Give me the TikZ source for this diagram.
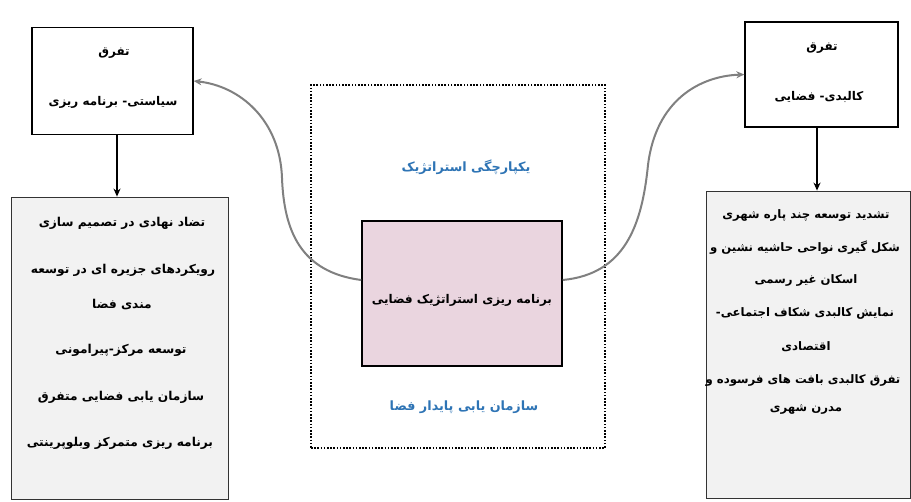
\documentclass[tikz,border=0pt]{standalone}
\usepackage{fontspec}
\usetikzlibrary{arrows.meta}
\TeXXeTstate=1
\newfontfamily\arabicfont[Script=Arabic]{DejaVu Sans}
\newcommand{\fa}[1]{{\arabicfont\beginR #1\endR}}
\definecolor{curvegray}{HTML}{808080}
\definecolor{pinkfill}{HTML}{EAD5DF}
\definecolor{boxgray}{HTML}{F2F2F2}
\definecolor{textblue}{HTML}{2E74B5}
\tikzset{
  topbox/.style={draw=black, line width=1.3pt, fill=white},
  listbox/.style={draw=black!80, line width=0.8pt, fill=boxgray},
  centerbox/.style={draw=black, line width=1.6pt, fill=pinkfill},
  frame/.style={draw=black, line width=1.4pt, dash pattern=on 1.6pt off 1.6pt},
  txt/.style={font=\bfseries\fontsize{12.2}{14}\selectfont, inner sep=0pt},
  rtxt/.style={font=\bfseries\fontsize{11.7}{14}\selectfont, inner sep=0pt},
  toptxt/.style={font=\bfseries\fontsize{12}{14}\selectfont, inner sep=0pt},
  bluetxt/.style={font=\bfseries\fontsize{12.8}{15}\selectfont, text=textblue, inner sep=0pt},
  curvearrow/.style={draw=curvegray, line width=2pt, -{Stealth[length=8pt,width=7pt]}},
  downarrow/.style={draw=black, line width=1.6pt, -{Stealth[length=8pt,width=7pt]}}
}
\begin{document}
\begin{tikzpicture}[x=1pt,y=-1pt]
\useasboundingbox[fill=white] (0,0) rectangle (911,502);
% boxes
\node[frame, minimum width=294pt, minimum height=363pt, inner sep=0pt] (frm) at (458,266.5) {};
\node[topbox, minimum width=161pt, minimum height=107pt, inner sep=0pt] (tl) at (112.5,81) {};
\node[topbox, minimum width=153pt, minimum height=105pt, inner sep=0pt] (tr) at (821.5,74.5) {};
\node[listbox, minimum width=217pt, minimum height=302pt, inner sep=0pt] (bl) at (119.5,348) {};
\node[listbox, minimum width=204pt, minimum height=307pt, inner sep=0pt] (br) at (808,344.5) {};
\node[centerbox, minimum width=200pt, minimum height=145pt, inner sep=0pt] (cb) at (462,293.5) {};
% center texts
\node[txt, font=\bfseries\fontsize{12}{14}\selectfont] (ct) at (462,300) {\fa{برنامه ریزی استراتژیک فضایی}};
\node[bluetxt] (b1) at (466,167) {\fa{یکپارچگی استراتژیک}};
\node[bluetxt] (b2) at (464,407) {\fa{سازمان یابی پایدار فضا}};
% top-left texts
\node[toptxt] (tl1) at (114,53) {\fa{تفرق}};
\node[toptxt] (tl2) at (113,102) {\fa{سیاستی- برنامه ریزی}};
% top-right texts
\node[toptxt] (tr1) at (822,48) {\fa{تفرق}};
\node[toptxt] (tr2) at (819,97) {\fa{کالبدی- فضایی}};
% bottom-left list
\node[txt] (l1) at (122,223) {\fa{تضاد نهادی در تصمیم سازی}};
\node[txt] (l2) at (123,270) {\fa{رویکردهای جزیره ای در توسعه}};
\node[txt] (l3) at (122,305) {\fa{مندی فضا}};
\node[txt] (l4) at (121,350) {\fa{توسعه مرکز-پیرامونی}};
\node[txt] (l5) at (121,397) {\fa{سازمان یابی فضایی متفرق}};
\node[txt] (l6) at (120,443) {\fa{برنامه ریزی متمرکز وبلوپرینتی}};
% bottom-right list
\node[rtxt] (r1) at (806,215) {\fa{تشدید توسعه چند پاره شهری}};
\node[rtxt] (r2) at (805,248) {\fa{شکل گیری نواحی حاشیه نشین و}};
\node[rtxt] (r3) at (806,280) {\fa{اسکان غیر رسمی}};
\node[rtxt] (r4) at (805,313) {\fa{نمایش کالبدی شکاف اجتماعی-}};
\node[rtxt] (r5) at (806,347) {\fa{اقتصادی}};
\node[rtxt] (r6) at (803,380) {\fa{تفرق کالبدی بافت های فرسوده و}};
\node[rtxt] (r7) at (806,410) {\fa{مدرن شهری}};
% connectors
\draw[downarrow] (tl.south -| bl.north) ++(-2.5,0) coordinate (tls) -- (tls |- bl.north);
\draw[downarrow] (tr.south) ++(-4.5,0) coordinate (trs) -- (trs |- br.north);
\draw[curvearrow] ([yshift=13.5pt]cb.west) .. controls (300,272) and (284,230) .. (282,178) .. controls (280,120) and (240,86) .. (tl.east);
\draw[curvearrow] ([yshift=13.5pt]cb.east) .. controls (625,274) and (642,225) .. (648,165) .. controls (656,100) and (700,76) .. (tr.west);
\end{tikzpicture}
\end{document}
